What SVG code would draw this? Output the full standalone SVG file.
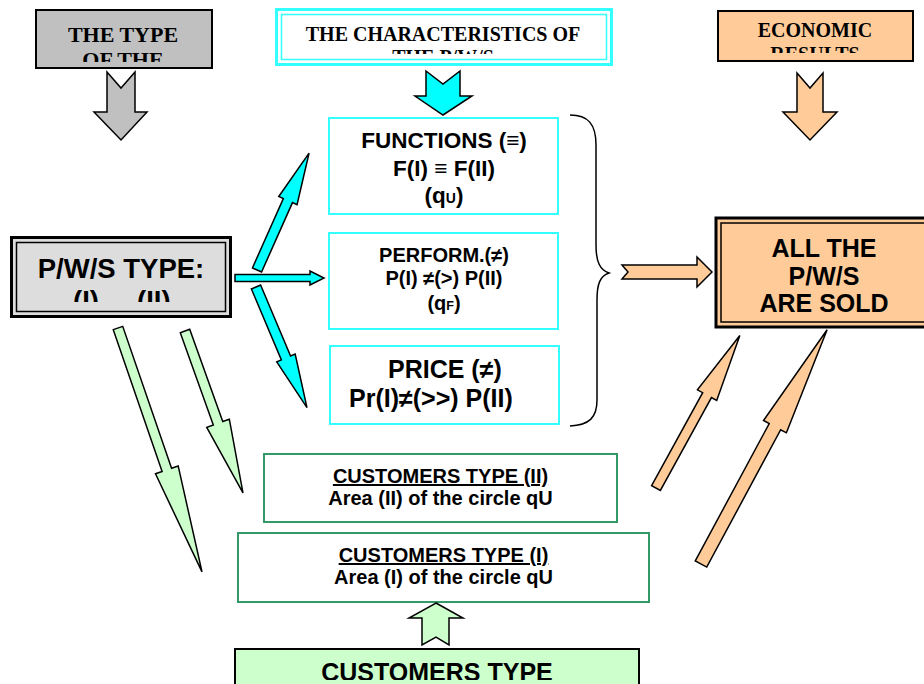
<svg xmlns="http://www.w3.org/2000/svg" width="924" height="684" viewBox="0 0 924 684">
<style>
.serif{font-family:"Liberation Serif","Times New Roman",serif;font-weight:bold;fill:#000}
.sans{font-family:"Liberation Sans",Arial,"DejaVu Sans",sans-serif;font-weight:bold;fill:#000}
.mid{text-anchor:middle}
.cyanbox{fill:#fff;stroke:#33FFFF;stroke-width:2}
.greenbox{fill:#fff;stroke:#339966;stroke-width:2}
.arr{stroke:#000;stroke-width:1.5;stroke-linejoin:miter}
.gray{fill:#C0C0C0}
.orange{fill:#FFCC99}
.cyan{fill:#00FFFF}
.green{fill:#CCFFCC}
</style>
<defs>
<clipPath id="c1"><rect x="36" y="10" width="175" height="52"/></clipPath>
<clipPath id="c2"><rect x="282" y="15" width="324" height="39"/></clipPath>
<clipPath id="c3"><rect x="718" y="11" width="194" height="42"/></clipPath>
<clipPath id="c4"><rect x="18" y="244" width="206" height="58"/></clipPath>
<clipPath id="c5"><rect x="236" y="650" width="402" height="30"/></clipPath>
</defs>
<rect width="924" height="684" fill="#fff"/>

<g id="type-box">
<rect x="36" y="10" width="176" height="58" fill="#C0C0C0" stroke="#000" stroke-width="2"/>
<g clip-path="url(#c1)">
<text class="serif mid" x="123" y="42" font-size="22">THE TYPE</text>
<text class="serif mid" x="123" y="67" font-size="22">OF THE</text>
</g>
</g>

<g id="characteristics-box">
<rect x="276.5" y="9.5" width="335" height="55" fill="#fff" stroke="#33FFFF" stroke-width="3"/>
<rect x="281.5" y="14.5" width="325" height="45" fill="none" stroke="#33FFFF" stroke-width="1.5"/>
<g clip-path="url(#c2)">
<text class="serif mid" x="443" y="41" font-size="20">THE CHARACTERISTICS OF</text>
<text class="serif mid" x="443" y="64" font-size="20">THE P/W/S</text>
</g>
</g>

<g id="economic-box">
<rect x="718" y="11" width="195" height="50" fill="#FFCC99" stroke="#000" stroke-width="2"/>
<g clip-path="url(#c3)">
<text class="serif mid" x="815" y="37" font-size="20">ECONOMIC</text>
<text class="serif mid" x="815" y="61" font-size="20">RESULTS</text>
</g>
</g>

<g id="pws-type-box">
<rect x="11.5" y="237.5" width="219" height="79" fill="#DDDDDD" stroke="#000" stroke-width="3"/>
<rect x="16.5" y="242.5" width="209" height="69" fill="none" stroke="#000" stroke-width="1.5"/>
<text class="sans mid" x="121" y="278" font-size="27.5">P/W/S TYPE:</text>
<g clip-path="url(#c4)">
<text class="sans" x="73" y="310" font-size="27.5">(I)</text>
<text class="sans" x="137" y="310" font-size="27.5">(II)</text>
</g>
</g>

<g id="functions-box">
<rect class="cyanbox" x="329" y="118" width="229" height="96"/>
<text class="sans mid" x="444" y="148" font-size="22.5">FUNCTIONS (≡)</text>
<text class="sans mid" x="444" y="176" font-size="22.5">F(I) ≡ F(II)</text>
<text class="sans mid" x="444" y="203" font-size="22.5">(q<tspan font-size="14">U</tspan>)</text>
</g>

<g id="perform-box">
<rect class="cyanbox" x="329" y="233" width="229" height="96"/>
<text class="sans mid" x="444" y="262" font-size="20">PERFORM.(≠)</text>
<text class="sans mid" x="444" y="285" font-size="20">P(I) ≠(&gt;) P(II)</text>
<text class="sans mid" x="444" y="310" font-size="20">(q<tspan font-size="12.5">F</tspan>)</text>
</g>

<g id="price-box">
<rect class="cyanbox" x="330" y="346" width="229" height="78"/>
<text class="sans" x="388" y="378" font-size="25">PRICE (≠)</text>
<text class="sans" x="349" y="407" font-size="25">Pr(I)≠(&gt;&gt;) P(II)</text>
</g>

<g id="sold-box">
<rect x="716" y="218" width="220" height="109" fill="#FFCC99" stroke="#000" stroke-width="3"/>
<rect x="721" y="223" width="210" height="99" fill="none" stroke="#000" stroke-width="1.5"/>
<text class="sans mid" x="824" y="257" font-size="25">ALL THE</text>
<text class="sans mid" x="824" y="285" font-size="25">P/W/S</text>
<text class="sans mid" x="824" y="312" font-size="25">ARE SOLD</text>
</g>

<g id="customers-ii-box">
<rect class="greenbox" x="264" y="454" width="353" height="68"/>
<text class="sans mid" x="440.5" y="483" font-size="20" text-decoration="underline">CUSTOMERS TYPE (II)</text>
<text class="sans mid" x="440.5" y="505" font-size="20">Area (II) of the circle qU</text>
</g>

<g id="customers-i-box">
<rect class="greenbox" x="238" y="533" width="411" height="69"/>
<text class="sans mid" x="443.5" y="562" font-size="20" text-decoration="underline">CUSTOMERS TYPE (I)</text>
<text class="sans mid" x="443.5" y="584" font-size="20">Area (I) of the circle qU</text>
</g>

<g id="customers-type-box">
<rect x="235" y="649" width="404" height="50" fill="#CCFFCC" stroke="#000" stroke-width="2"/>
<g clip-path="url(#c5)">
<text class="sans mid" x="437" y="681" font-size="25">CUSTOMERS TYPE</text>
</g>
</g>

<g id="connectors">
<polygon class="arr gray" points="107,72 121,88 135,72 135,112 147,112 121,140 94,112 107,112"/>
<polygon class="arr cyan" points="426,71 443,84 460,71 460,96 472,96 443,115 415,96 426,96"/>
<polygon class="arr orange" points="797,73 810,88 823,73 823,112 837,112 810,140 783,112 797,112"/>
<polygon class="arr cyan" transform="translate(257,270) rotate(-66)" points="0,-5 76,-5 76,-10 128,0 76,10 76,5 0,5"/>
<polygon class="arr cyan" points="235,274.5 310,274.5 310,271 324,278 310,285 310,281.5 235,281.5"/>
<polygon class="arr cyan" transform="translate(256,287) rotate(67.1)" points="0,-5 77,-5 77,-10 131,0 77,10 77,5 0,5"/>
<polygon class="arr green" transform="translate(118,328) rotate(71)" points="0,-5 150,-5 150,-12 258,0 150,12 150,5 0,5"/>
<polygon class="arr green" transform="translate(185,331) rotate(70.3)" points="0,-5 98,-5 98,-12 172,0 98,12 98,5 0,5"/>
<polygon class="arr orange" transform="translate(656,488) rotate(-61.2)" points="0,-5 106,-5 106,-11 174,0 106,11 106,5 0,5"/>
<polygon class="arr orange" transform="translate(701,564) rotate(-61.7)" points="0,-6.5 156,-6.5 156,-13 266,0 156,13 156,6.5 0,6.5"/>
<path d="M570,115 C588,115 596,124 596,145 L596,245 C596,262 600,270 609,273 C600,276 597,284 597,300 L597,400 C597,418 589,425 570,426" fill="none" stroke="#000" stroke-width="1.5"/>
<polygon class="arr orange" points="622,265 697,265 697,257 712,272 697,287 697,279 622,279 628,272"/>
<polygon class="arr green" points="436,603 463,618 449,618 449,645 436,637 422,645 422,618 409,618"/>
</g>
</svg>
